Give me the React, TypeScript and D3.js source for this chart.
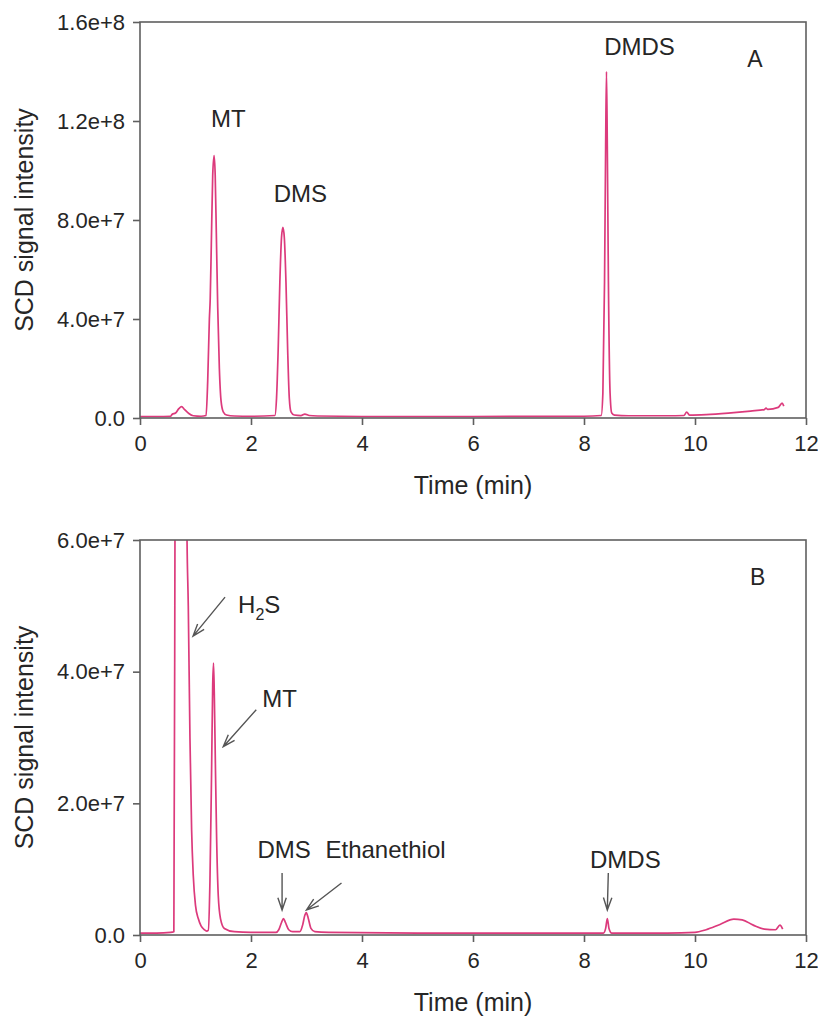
import { useEffect, useRef } from 'react'
import * as d3 from 'd3'

// retention time (min) and SCD signal (x 1e6)
const timeA = [0, 0.3, 0.55, 0.58, 0.64, 0.7, 0.75, 0.8, 0.88, 0.96, 1.1, 1.19, 1.22, 1.25, 1.265, 1.285, 1.31, 1.335, 1.355, 1.375, 1.4, 1.43, 1.46, 1.5, 1.56, 1.7, 2.0, 2.43, 2.46, 2.49, 2.52, 2.55, 2.575, 2.6, 2.63, 2.66, 2.69, 2.72, 2.78, 2.9, 2.97, 3.05, 3.2, 4.0, 6.0, 8.0, 8.31, 8.34, 8.37, 8.39, 8.405, 8.42, 8.44, 8.47, 8.5, 8.55, 8.8, 9.5, 9.8, 9.85, 9.9, 10.2, 10.6, 11.0, 11.25, 11.28, 11.31, 11.5, 11.57, 11.6]
const signalA = [0.6, 0.6, 0.7, 1.5, 2.0, 3.8, 4.6, 3.5, 1.8, 0.9, 0.7, 1.0, 15, 40, 48, 70, 98, 106, 98, 75, 45, 20, 7, 2.5, 1.2, 0.8, 0.7, 1.0, 8, 28, 55, 73, 77, 73, 55, 28, 8, 2.5, 1.2, 1.0, 1.6, 1.0, 0.8, 0.6, 0.6, 0.7, 1.0, 10, 55, 110, 140, 110, 55, 10, 2, 1.2, 0.9, 0.9, 1.0, 2.4, 1.2, 1.4, 2.0, 2.8, 3.4, 4.0, 3.5, 4.3, 6.0, 4.8]

const timeB = [0, 0.3, 0.55, 0.61, 0.63, 0.65, 0.83, 0.845, 0.87, 0.9, 0.93, 0.96, 1.0, 1.05, 1.1, 1.16, 1.2, 1.23, 1.26, 1.29, 1.31, 1.325, 1.34, 1.36, 1.38, 1.41, 1.45, 1.52, 1.7, 2.0, 2.45, 2.5, 2.55, 2.585, 2.62, 2.68, 2.75, 2.88, 2.93, 2.97, 2.995, 3.03, 3.08, 3.15, 3.4, 5.0, 7.0, 8.35, 8.39, 8.42, 8.45, 8.5, 9.5, 10.0, 10.2, 10.45, 10.7, 10.85, 11.05, 11.25, 11.45, 11.53, 11.58]
const signalB = [0.3, 0.3, 0.4, 0.5, 60, 150, 150, 62, 50, 30, 16, 9, 4.5, 2.5, 1.4, 0.8, 0.6, 0.7, 8, 25, 38, 41.3, 36, 25, 15, 6, 2.5, 1.0, 0.5, 0.4, 0.4, 0.8, 1.9, 2.5, 1.9, 0.8, 0.5, 0.5, 1.5, 3.0, 3.4, 2.6, 1.0, 0.5, 0.4, 0.3, 0.3, 0.3, 1.0, 2.5, 1.0, 0.3, 0.3, 0.4, 0.8, 1.6, 2.4, 2.3, 1.5, 0.9, 0.8, 1.5, 0.9]

const timeTicks = [0, 2, 4, 6, 8, 10, 12]
const yTicksA = [0, 4e7, 8e7, 1.2e8, 1.6e8]
const yLabelsA = ['0.0', '4.0e+7', '8.0e+7', '1.2e+8', '1.6e+8']
const yTicksB = [0, 2e7, 4e7, 6e7]
const yLabelsB = ['0.0', '2.0e+7', '4.0e+7', '6.0e+7']

// peak labels: [text, time, signal]
const peaksA = [
  ['MT', 1.59, 1.176e8],
  ['DMS', 2.89, 8.73e7],
  ['DMDS', 9.0, 1.467e8],
]
// arrowed labels: [text, tip time, tip signal, tail dx, tail dy, label dx, label dy, anchor]
const peaksB = [
  ['H2S', 0.956, 4.54e7, 32, -39, 45, -23, 'start'],
  ['MT', 1.5, 2.86e7, 33, -37, 39, -40, 'start'],
  ['DMS', 2.56, 3.8e6, 0, -37, 2, -52, 'middle'],
  ['Ethanethiol', 3.0, 3.8e6, 35, -27, 19, -52, 'start'],
  ['DMDS', 8.42, 3.8e6, 1, -37, 18, -42, 'middle'],
]

const FONT = 'Liberation Sans, Arial, sans-serif'
const LINE = '#dc3a7c'
const AXIS = '#5f5f5f'
const TEXT = '#262626'

function drawPanel(svg, opts) {
  const { top, bottom, yMax, yTicks, yLabels, time, signal, tag, id } = opts
  const left = 140
  const right = 806
  const x = d3.scaleLinear().domain([0, 12]).range([left, right])
  const y = d3.scaleLinear().domain([0, yMax]).range([bottom, top])
  const g = svg.append('g')

  g.append('clipPath').attr('id', id).append('rect')
    .attr('x', left).attr('y', top).attr('width', right - left).attr('height', bottom - top)

  const pts = time.map((t, i) => [t, signal[i] * 1e6])
  const line = d3.line().x(d => x(d[0])).y(d => y(d[1])).curve(d3.curveMonotoneX)
  g.append('path')
    .attr('d', line(pts))
    .attr('clip-path', `url(#${id})`)
    .attr('fill', 'none')
    .attr('stroke', LINE)
    .attr('stroke-width', 1.7)
    .attr('stroke-linejoin', 'round')

  // frame
  g.append('rect')
    .attr('x', left).attr('y', top).attr('width', right - left).attr('height', bottom - top)
    .attr('fill', 'none').attr('stroke', AXIS).attr('stroke-width', 1.6)

  const xAxis = d3.axisBottom(x).tickValues(timeTicks).tickSize(7).tickPadding(10).tickFormat(d3.format('d'))
  const gx = g.append('g').attr('transform', `translate(0,${bottom})`).call(xAxis)
  const yAxis = d3.axisLeft(y).tickValues(yTicks).tickSize(7).tickPadding(8).tickFormat((d, i) => yLabels[i])
  const gy = g.append('g').attr('transform', `translate(${left},0)`).call(yAxis)
  for (const a of [gx, gy]) {
    a.select('.domain').remove()
    a.selectAll('line').attr('stroke', AXIS).attr('stroke-width', 1.6)
    a.selectAll('text').attr('fill', TEXT).style('font-family', FONT).style('font-size', '22px')
  }

  g.append('text')
    .attr('x', (left + right) / 2).attr('y', bottom + 76)
    .attr('text-anchor', 'middle')
    .style('font-family', FONT).style('font-size', '25px').attr('fill', TEXT)
    .text('Time (min)')

  g.append('text')
    .attr('transform', `translate(33,${(top + bottom) / 2}) rotate(-90)`)
    .attr('text-anchor', 'middle')
    .style('font-family', FONT).style('font-size', '25px').attr('fill', TEXT)
    .text('SCD signal intensity')

  g.append('text')
    .attr('x', x(tag[1])).attr('y', y(tag[2]))
    .attr('text-anchor', 'middle')
    .style('font-family', FONT).style('font-size', '23px').attr('fill', TEXT)
    .text(tag[0])

  return { g, x, y }
}

export default function App() {
  const ref = useRef(null)

  useEffect(() => {
    const svg = d3.select(ref.current)
    svg.selectAll('*').remove()

    // panel A
    const a = drawPanel(svg, {
      id: 'clipA', top: 22, bottom: 418, yMax: 1.6e8, yTicks: yTicksA, yLabels: yLabelsA,
      time: timeA, signal: signalA, tag: ['A', 11.08, 1.418e8],
    })
    a.g.selectAll('text.peak')
      .data(peaksA)
      .enter()
      .append('text')
      .attr('class', 'peak')
      .attr('x', d => a.x(d[1]))
      .attr('y', d => a.y(d[2]))
      .attr('text-anchor', 'middle')
      .style('font-family', FONT).style('font-size', '24px').attr('fill', TEXT)
      .text(d => d[0])

    // panel B
    const b = drawPanel(svg, {
      id: 'clipB', top: 540, bottom: 935, yMax: 6e7, yTicks: yTicksB, yLabels: yLabelsB,
      time: timeB, signal: signalB, tag: ['B', 11.13, 5.32e7],
    })

    const arrowColor = '#555'
    peaksB.forEach(([name, t, v, dx, dy, lx, ly, anchor]) => {
      const tx = b.x(t)
      const ty = b.y(v)
      const sx = tx + dx
      const sy = ty + dy
      const ang = Math.atan2(ty - sy, tx - sx)
      const head = 13
      const spread = 0.33
      const p1 = [tx - head * Math.cos(ang - spread), ty - head * Math.sin(ang - spread)]
      const p2 = [tx - head * Math.cos(ang + spread), ty - head * Math.sin(ang + spread)]
      b.g.append('path')
        .attr('d', `M${sx},${sy}L${tx},${ty}M${p1[0]},${p1[1]}L${tx},${ty}L${p2[0]},${p2[1]}`)
        .attr('fill', 'none').attr('stroke', arrowColor).attr('stroke-width', 1.4)

      const label = b.g.append('text')
        .attr('x', tx + lx).attr('y', ty + ly).attr('text-anchor', anchor)
        .style('font-family', FONT).style('font-size', '24px').attr('fill', TEXT)
      if (name === 'H2S') {
        label.append('tspan').text('H')
        label.append('tspan').attr('dy', 7).style('font-size', '16px').text('2')
        label.append('tspan').attr('dy', -7).text('S')
      } else {
        label.text(name)
      }
    })
  }, [])

  return <svg ref={ref} width={818} height={1027} style={{ position: 'absolute', left: 0, top: 0, background: '#fff' }} />
}
